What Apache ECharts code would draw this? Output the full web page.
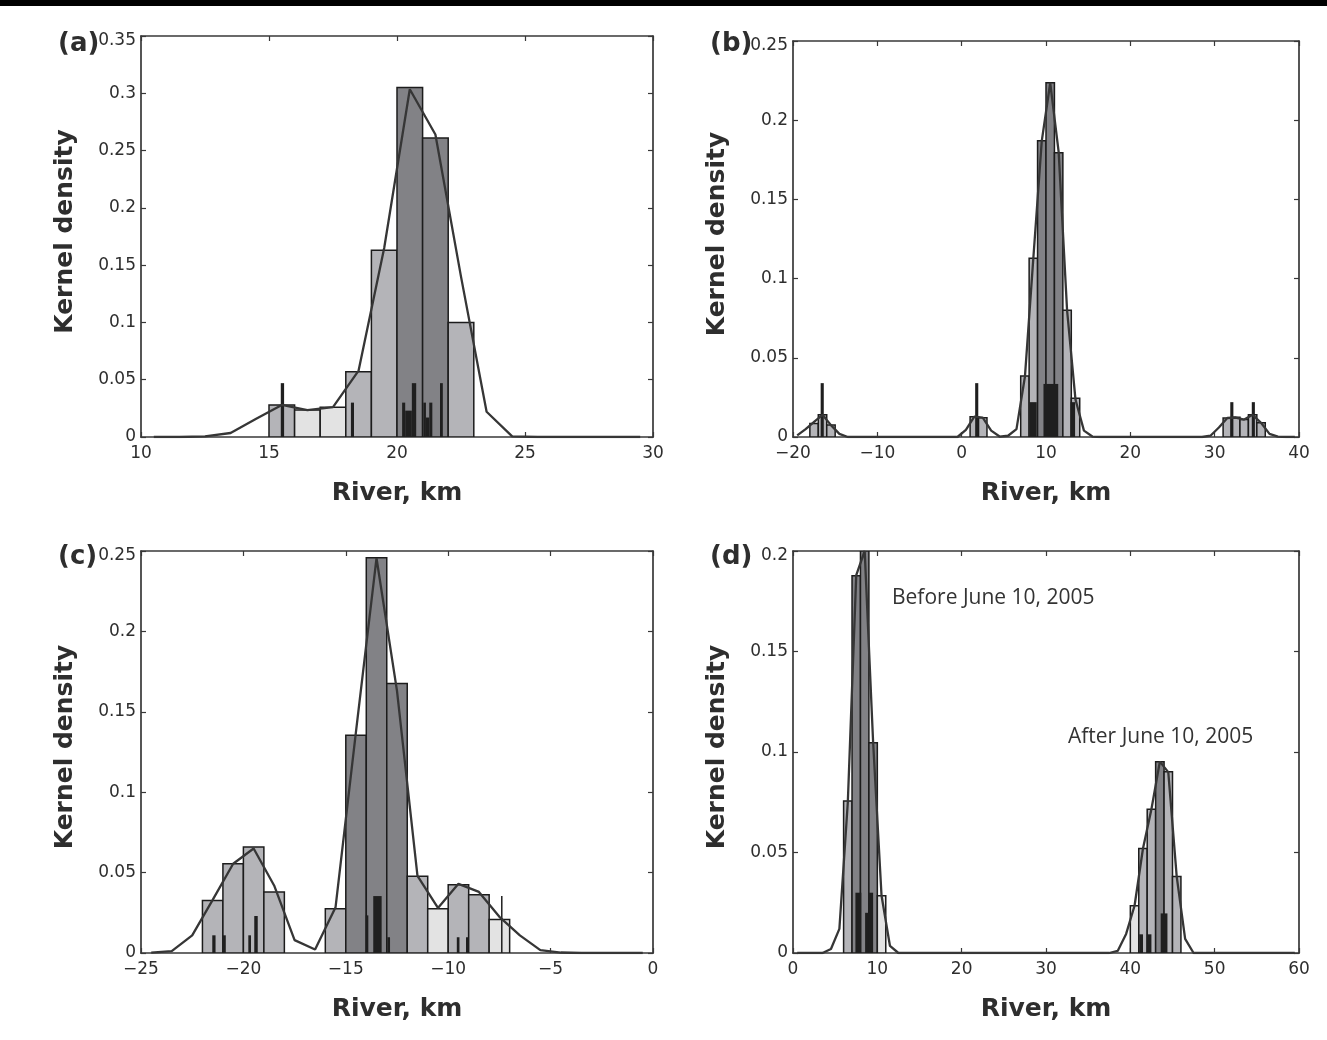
<!DOCTYPE html>
<html><head><meta charset="utf-8">
<script src="https://cdn.jsdelivr.net/npm/echarts@6/dist/echarts.min.js"></script>
<style>html,body{margin:0;padding:0;background:#fff;}#chart{width:1327px;height:1040px;}</style>
</head><body><div id="chart"></div>
<script>
// ---------------- DATA ----------------
// shade classes: 0 = light, 1 = medium, 2 = dark
// Panel (a)
const A_BIN_LEFT   = [15, 16, 17, 18, 19, 20, 21, 22];
const A_BIN_HEIGHT = [0.028, 0.0236, 0.026, 0.057, 0.163, 0.305, 0.261, 0.100];
const A_BIN_CLASS  = [1, 0, 0, 1, 1, 2, 2, 1];
const A_RUG = [[15.46,15.59,0.047],[18.2,18.32,0.030],[20.2,20.32,0.030],[20.32,20.58,0.023],[20.58,20.75,0.047],
               [21.03,21.13,0.030],[21.13,21.26,0.017],[21.26,21.38,0.030],[21.68,21.79,0.047]];
const A_KDE_X = [10.5,11.5,12.5,13.5,14.5,15.5,16.5,17.5,18.5,19.5,20.5,21.5,22.5,23.5,24.5,25.5,26.5,27.5,28.5,29.5];
const A_KDE_Y = [0,0,0.0005,0.0035,0.016,0.028,0.0235,0.026,0.058,0.165,0.3035,0.264,0.14,0.022,0.0005,0,0,0,0,0];

// Panel (b)
const B_BIN_LEFT   = [-18, -17, -16, 1, 2, 7, 8, 9, 10, 11, 12, 13, 31, 32, 33, 34, 35];
const B_BIN_HEIGHT = [0.0086, 0.014, 0.0075, 0.0128, 0.0122, 0.0385, 0.1128, 0.187, 0.2237, 0.1795, 0.080, 0.0244, 0.012, 0.0125, 0.011, 0.014, 0.009];
const B_BIN_CLASS  = [1, 1, 1, 1, 1, 1, 1, 2, 2, 2, 1, 1, 1, 1, 1, 1, 1];
const B_RUG = [[-16.72,-16.35,0.034],[1.6,1.97,0.034],[8.05,8.9,0.022],[9.7,11.45,0.0335],[12.9,13.45,0.022],
               [31.85,32.22,0.022],[34.4,34.77,0.022]];
const B_KDE_X = [-19.5,-18.5,-17.5,-16.5,-15.5,-14.5,-13.5,-0.5,0.5,1.5,2.5,3.5,4.5,5.5,6.5,7.5,8.5,9.5,10.5,11.5,12.5,13.5,14.5,15.5,16.5,28.5,29.5,30.5,31.5,32.5,33.5,34.5,35.5,36.5,37.5,38.5,39.5];
const B_KDE_Y = [0.001,0.005,0.0095,0.014,0.0075,0.002,0,0,0.0045,0.0128,0.0122,0.004,0.0003,0.0008,0.005,0.038,0.113,0.187,0.2235,0.18,0.08,0.0235,0.004,0.0003,0,0,0.0008,0.006,0.012,0.0123,0.011,0.014,0.009,0.002,0.0002,0,0];

// Panel (c)
const C_BIN_LEFT   = [-22, -21, -20, -19, -16, -15, -14, -13, -12, -11, -10, -9, -8];
const C_BIN_HEIGHT = [0.0327, 0.0555, 0.0659, 0.0379, 0.0275, 0.1354, 0.2458, 0.1676, 0.0478, 0.0275, 0.0425, 0.0362, 0.0209];
const C_BIN_CLASS  = [1, 1, 1, 1, 1, 2, 2, 2, 1, 0, 1, 1, 0];
const C_RUG = [[-21.52,-21.36,0.011],[-21.0,-20.86,0.011],[-19.76,-19.63,0.011],[-19.47,-19.3,0.023],
               [-14.03,-13.9,0.0234],[-13.66,-13.25,0.0354],[-12.97,-12.84,0.0098],
               [-9.58,-9.45,0.0098],[-9.13,-9.0,0.0098],[-7.42,-7.36,0.0354]];
const C_KDE_X = [-24.5,-23.5,-22.5,-21.5,-20.5,-19.5,-18.5,-17.5,-16.5,-15.5,-14.5,-13.5,-12.5,-11.5,-10.5,-9.5,-8.5,-7.5,-6.5,-5.5,-4.5,-3.5,-2.5,-1.5,-0.5];
const C_KDE_Y = [0.0002,0.0012,0.011,0.033,0.0555,0.065,0.042,0.008,0.0022,0.0285,0.138,0.2455,0.163,0.048,0.028,0.043,0.038,0.0225,0.011,0.0018,0.0003,0,0,0,0];

// Panel (d)
const D_BIN_LEFT   = [6, 7, 8, 9, 10, 40, 41, 42, 43, 44, 45];
const D_BIN_HEIGHT = [0.0756, 0.1877, 0.2, 0.1046, 0.0285, 0.0235, 0.052, 0.0715, 0.0952, 0.0902, 0.038];
const D_BIN_CLASS  = [1, 2, 2, 2, 0, 0, 1, 1, 2, 1, 1];
const D_RUG = [[7.4,8.1,0.030],[8.55,9.0,0.020],[9.0,9.5,0.030],[41.05,41.5,0.0093],[41.95,42.5,0.0093],[43.6,44.4,0.0197]];
const D_KDE_X = [0.5,3.5,4.5,5.5,6.5,7.5,8.5,9.5,10.5,11.5,12.5,37.5,38.5,39.5,40.5,41.5,42.5,43.5,44.5,45.5,46.5,47.5,59.5];
const D_KDE_Y = [0,0,0.002,0.012,0.075,0.188,0.2,0.105,0.0285,0.0035,0,0,0.001,0.0095,0.0235,0.052,0.0715,0.0952,0.09,0.038,0.007,0,0];

const BIN_WIDTH = 1; // km, all panels

const PANELS = [
  {tag:'(a)', binLeft:A_BIN_LEFT, binH:A_BIN_HEIGHT, binC:A_BIN_CLASS, rug:A_RUG, kx:A_KDE_X, ky:A_KDE_Y,
   xMin:10, xMax:30, xInt:5, yMax:0.35},
  {tag:'(b)', binLeft:B_BIN_LEFT, binH:B_BIN_HEIGHT, binC:B_BIN_CLASS, rug:B_RUG, kx:B_KDE_X, ky:B_KDE_Y,
   xMin:-20, xMax:40, xInt:10, yMax:0.25},
  {tag:'(c)', binLeft:C_BIN_LEFT, binH:C_BIN_HEIGHT, binC:C_BIN_CLASS, rug:C_RUG, kx:C_KDE_X, ky:C_KDE_Y,
   xMin:-25, xMax:0, xInt:5, yMax:0.25},
  {tag:'(d)', binLeft:D_BIN_LEFT, binH:D_BIN_HEIGHT, binC:D_BIN_CLASS, rug:D_RUG, kx:D_KDE_X, ky:D_KDE_Y,
   xMin:0, xMax:60, xInt:10, yMax:0.2}
];
const ANNOTATIONS_D = ['Before June 10, 2005', 'After June 10, 2005'];
const X_TITLE = 'River, km';
const Y_TITLE = 'Kernel density';

// ---------------- STYLE / LAYOUT ----------------
const SHADES = ['#e3e3e3', '#b4b4b8', '#828286'];
const GRIDS = [
  {left:141, top:36, width:512, height:401},
  {left:793, top:41, width:506, height:396},
  {left:141, top:551, width:512, height:402},
  {left:793, top:551, width:506, height:402}
];
const AXIS_COLOR = '#383838';
const TXT = '#2e2e2e';
const TICK_FONT = 'DejaVu Sans';

function fmt(v){ const s = String(parseFloat(Number(v).toFixed(4))); return s.replace('-', '\u2212'); }

const chart = echarts.init(document.getElementById('chart'), null, {renderer:'canvas'});
const grid = [], xAxis = [], yAxis = [], series = [], graphic = [];

graphic.push({type:'rect', shape:{x:0, y:0, width:1327, height:6}, style:{fill:'#000'}, z:100});

PANELS.forEach((p, g) => {
  grid.push(Object.assign({containLabel:false}, GRIDS[g]));
  const lineStyle = {color:AXIS_COLOR, width:1.7};
  const baseX = {type:'value', gridIndex:g, min:p.xMin, max:p.xMax, interval:p.xInt,
    splitLine:{show:false}, axisLine:{show:true, onZero:false, lineStyle},
    axisTick:{show:true, inside:true, length:5, lineStyle:{color:AXIS_COLOR, width:1.2}}};
  xAxis.push(Object.assign({}, baseX, {position:'bottom',
    axisLabel:{show:true, margin:8, color:TXT, fontSize:17, fontFamily:TICK_FONT, formatter:fmt, showMinLabel:true, showMaxLabel:true}}));
  xAxis.push(Object.assign({}, baseX, {position:'top', axisLabel:{show:false}}));
  const baseY = {type:'value', gridIndex:g, min:0, max:p.yMax, interval:0.05,
    splitLine:{show:false}, axisLine:{show:true, onZero:false, lineStyle},
    axisTick:{show:true, inside:true, length:5, lineStyle:{color:AXIS_COLOR, width:1.2}}};
  yAxis.push(Object.assign({}, baseY, {position:'left',
    axisLabel:{show:true, margin:5, color:TXT, fontSize:17, fontFamily:TICK_FONT,
      formatter:(v) => (Math.abs(v - p.yMax) < 1e-9 ? '{top|' + fmt(v) + '}' : fmt(v)),
      rich:{top:{fontSize:17, fontFamily:TICK_FONT, color:TXT, padding:[10,0,0,0]}},
      showMinLabel:true, showMaxLabel:true}}));
  yAxis.push(Object.assign({}, baseY, {position:'right', axisLabel:{show:false}}));

  // histogram bars
  series.push({
    type:'custom', xAxisIndex:2*g, yAxisIndex:2*g, clip:true, z:2, animation:false,
    encode:{x:[0,1], y:2},
    data: p.binLeft.map((l,i) => [l, l + BIN_WIDTH, p.binH[i], p.binC[i]]),
    renderItem: (params, api) => {
      const a = api.coord([api.value(0), api.value(2)]);
      const b = api.coord([api.value(1), 0]);
      return {type:'rect', shape:{x:a[0], y:a[1], width:b[0]-a[0], height:b[1]-a[1]},
        style:{fill:SHADES[api.value(3)], stroke:'#1c1c1c', lineWidth:1.5}};
    }
  });
  // rug / raw-count bars
  series.push({
    type:'custom', xAxisIndex:2*g, yAxisIndex:2*g, clip:true, z:3, animation:false,
    encode:{x:[0,1], y:2},
    data: p.rug.map(r => [r[0], r[1], r[2]]),
    renderItem: (params, api) => {
      const a = api.coord([api.value(0), api.value(2)]);
      const b = api.coord([api.value(1), 0]);
      return {type:'rect', shape:{x:a[0], y:a[1], width:Math.max(1.5, b[0]-a[0]), height:b[1]-a[1]},
        style:{fill:'#1f1f1f'}};
    }
  });
  // kernel density line
  series.push({
    type:'line', xAxisIndex:2*g, yAxisIndex:2*g, z:4, clip:true, animation:false,
    symbol:'none', smooth:false,
    lineStyle:{color:'#363636', width:2.3},
    data: p.kx.map((x,i) => [x, p.ky[i]])
  });

  const G = GRIDS[g];
  // panel tag
  graphic.push({type:'text', x:G.left - 83, y:G.top + (g===0?8:(g===1?3:6)),
    style:{text:p.tag, font:'bold 26px "DejaVu Sans"', fill:TXT, align:'left', verticalAlign:'middle'}});
  // axis titles
  graphic.push({type:'text', x:G.left + G.width/2, y:G.top + G.height + 56,
    style:{text:X_TITLE, font:'bold 25px "DejaVu Sans"', fill:TXT, align:'center', verticalAlign:'middle'}});
  graphic.push({type:'text', x:G.left - 76, y:G.top + G.height/2 - 5, rotation:Math.PI/2,
    style:{text:Y_TITLE, font:'bold 25px "DejaVu Sans"', fill:TXT, align:'center', verticalAlign:'middle'}});
});

graphic.push({type:'text', x:892, y:598, style:{text:ANNOTATIONS_D[0], font:'21px "Open Sans"', fill:'#333', align:'left', verticalAlign:'middle'}});
graphic.push({type:'text', x:1068, y:737, style:{text:ANNOTATIONS_D[1], font:'21px "Open Sans"', fill:'#333', align:'left', verticalAlign:'middle'}});

chart.setOption({backgroundColor:'#fff', animation:false, grid, xAxis, yAxis, series, graphic});
</script>
</body></html>
